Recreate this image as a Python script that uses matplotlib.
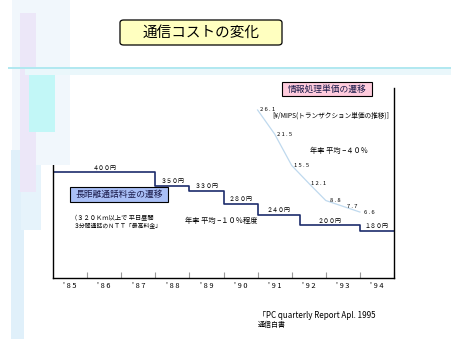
import matplotlib
matplotlib.use("Agg")
import matplotlib.pyplot as plt
from matplotlib.patches import Rectangle, FancyBboxPatch

plt.rcParams['font.family'] = ['Noto Sans CJK JP', 'DejaVu Sans']

W, H = 452, 339

# data
years = ["'85", "'86", "'87", "'88", "'89", "'90", "'91", "'92", "'93", "'94"]
call_dates = [1985, 1988, 1989, 1990, 1991, 1992.25, 1994]
call_prices = [400, 350, 330, 280, 240, 200, 180]
call_labels = ["４００円", "３５０円", "３３０円", "２８０円", "２４０円", "２００円", "１８０円"]
call_end = 1995

mips_dates = [1991, 1991.5, 1992, 1992.5, 1993, 1993.5, 1994]
mips_price = [26.1, 21.5, 15.5, 12.1, 8.8, 7.7, 6.6]


def fx(x):
    return x / W


def fy(y):
    return 1 - y / H


fig = plt.figure(figsize=(W / 100, H / 100), dpi=100)
fig.patch.set_facecolor('white')


def rect(x0, y0, x1, y1, color, alpha=1.0):
    fig.patches.append(Rectangle((fx(x0), fy(y1)), (x1 - x0) / W, (y1 - y0) / H,
                                 transform=fig.transFigure, facecolor=color,
                                 edgecolor='none', alpha=alpha, zorder=0))


# slide background decoration
rect(12, 0, 70, 165, '#F1F7FC')
rect(11, 150, 24, 339, '#E0F0FA')
rect(21, 165, 41, 230, '#E6F3FB')
rect(20, 13, 36, 192, '#ECE7F8')
rect(29, 75, 55, 132, '#C2F7F7')
rect(8, 67, 452, 69, '#B2E8F0')
rect(25, 69, 452, 75, '#EAF7FB')

ax = fig.add_axes([fx(53), fy(278), (394 - 53) / W, (278 - 88) / H])
ax.patch.set_alpha(0)
ax.set_xlim(1985, 1995)
ax.set_ylim(0, 720)

xs = call_dates + [call_end]
ys = call_prices + [call_prices[-1]]
ax.step(xs, ys, where='post', color='#1C2C6C', lw=1.2)
for i, p in enumerate(call_prices):
    mid = (xs[i] + xs[i + 1]) / 2
    ax.annotate(call_labels[i], (mid, p), xytext=(0, 1.2), textcoords='offset points',
                ha='center', va='bottom', fontsize=4.3, color='black')

ax.spines['top'].set_visible(False)
for s in ['left', 'right', 'bottom']:
    ax.spines[s].set_linewidth(1.0)
    ax.spines[s].set_color('black')

ax.set_xticks(range(1986, 1996))
ax.set_xticklabels([])
ax.tick_params(axis='x', direction='in', length=4, color='#999999', width=0.8)
ax.set_xticks([1985.5 + i for i in range(len(years))], minor=True)
ax.set_xticklabels([" ".join(y) for y in years], minor=True, fontsize=5.3)
ax.tick_params(axis='x', which='minor', length=0, pad=3)
ax.set_yticks([])

ax2 = ax.twinx()
ax2.set_ylim(-6.0, 30.3)
ax2.set_yticks([])
for s in ax2.spines.values():
    s.set_visible(False)
ax2.plot(mips_dates, mips_price, color='#BFD9EE', lw=0.9)
for d, v in zip(mips_dates, mips_price):
    ax2.annotate(" ".join(f"{v:.1f}"), (d, v), xytext=(7, 0), textcoords='offset points',
                 ha='center', va='center', fontsize=4.2, color='black')

# boxes and labels
fig.patches.append(FancyBboxPatch((fx(120), fy(45)), (282 - 120) / W, (45 - 20) / H,
                                  boxstyle='round,pad=0,rounding_size=0.008',
                                  transform=fig.transFigure, facecolor='#FFFFC0',
                                  edgecolor='black', lw=0.9))
fig.text(fx(201), fy(33), "通信コストの変化", ha='center', va='center', fontsize=10.5)

fig.patches.append(Rectangle((fx(282), fy(96)), 90 / W, 14 / H, transform=fig.transFigure,
                             facecolor='#FFCCDD', edgecolor='black', lw=0.8))
fig.text(fx(327), fy(89), "情報処理単価の遷移", ha='center', va='center', fontsize=6.3,
         color='#1A1A4A')

fig.patches.append(Rectangle((fx(70), fy(202)), 98 / W, 15 / H, transform=fig.transFigure,
                             facecolor='#A9BFF6', edgecolor='black', lw=0.8))
fig.text(fx(119), fy(194.5), "長距離通話料金の遷移", ha='center', va='center', fontsize=6.3,
         color='#1A1A4A')

fig.text(fx(71), fy(218), "（３２０Ｋｍ以上で 平日昼間", ha='left', va='center', fontsize=4.5)
fig.text(fx(74), fy(225), "３分間通話のＮＴＴ「最高料金」", ha='left', va='center', fontsize=4.2)
fig.text(fx(185), fy(221), "年率 平均 −１０％程度", ha='left', va='center', fontsize=5.2)
fig.text(fx(310), fy(151), "年率 平均 −４０％", ha='left', va='center', fontsize=5.2)
fig.text(fx(272), fy(116), "[¥/MIPS(トランザクション単価の推移)]", ha='left', va='center',
         fontsize=4.8)

fig.text(fx(258), fy(316), "「PC quarterly Report Apl. 1995", ha='left', va='center', fontsize=5.8)
fig.text(fx(258), fy(325), "通信白書", ha='left', va='center', fontsize=5)

fig.savefig('out.png', dpi=100)
